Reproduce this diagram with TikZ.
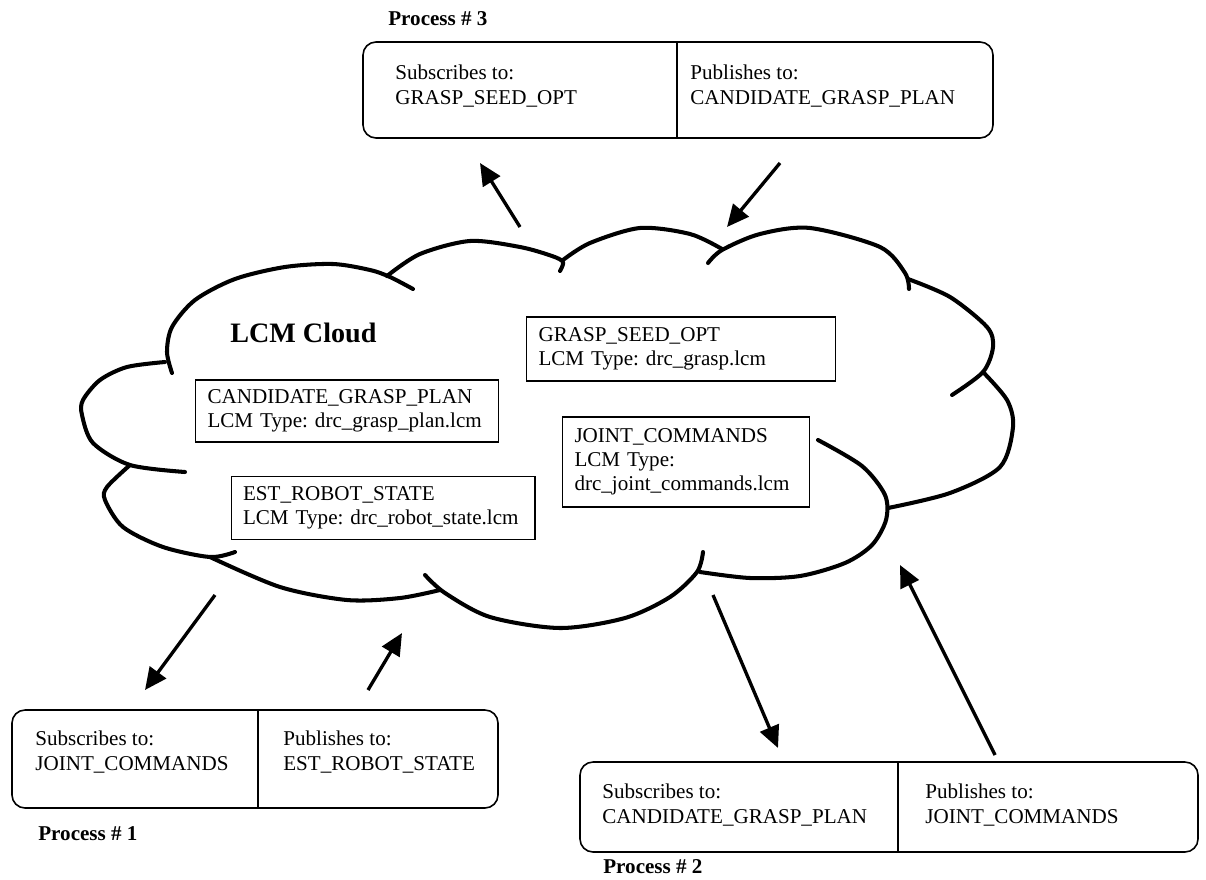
\documentclass[tikz,border=0pt]{standalone}
\usepackage{fontspec}
\setmainfont{Liberation Serif}
\frenchspacing
\usetikzlibrary{arrows.meta,positioning}

\begin{document}
\begin{tikzpicture}[
    x=0.02cm, y=-0.02cm,
    lobe/.style={line width=2.3pt, line cap=round, line join=round},
    flow/.style={-{Triangle[length=0.44cm,width=0.4cm]}, line width=1.9pt},
    procframe/.style={line width=0.9pt, rounded corners=0.26cm},
    boxtext/.style={font=\fontsize{12}{13.8}\selectfont, align=left, inner sep=0pt, anchor=north west},
    proc/.style={font=\fontsize{12}{14}\selectfont\bfseries, inner sep=0pt, anchor=base west},
    chan/.style={draw, line width=0.6pt, font=\fontsize{12}{13.8}\selectfont,
      align=left, inner xsep=0.24cm, inner ysep=0pt},
  ]

  \fill[white] (0,0) rectangle (1206,879);

  %% --- cloud ---
  \draw[lobe] plot[smooth] coordinates {(172,373) (167,352) (172,327) (195,300) (235,279) (285,267) (333,264) (370,270) (390,277) (413,289)};
  \draw[lobe] plot[smooth] coordinates {(387,276) (420,254) (470,241) (520,247) (552,256) (563,262) (560,271)};
  \draw[lobe] plot[smooth] coordinates {(563,260) (590,243) (640,228) (690,234) (722,249)};
  \draw[lobe] plot[smooth] coordinates {(708,263) (722,250) (760,234) (810,228) (880,247) (905,273) (909,289)};
  \draw[lobe] plot[smooth] coordinates {(908,279) (950,297) (987,327) (993,347) (983,372) (952,395)};
  \draw[lobe] plot[smooth] coordinates {(983,372) (1007,400) (1013,427) (1000,467) (950,493) (888,508)};
  \draw[lobe] plot[smooth] coordinates {(818,440) (862,466) (885,495) (886,520) (872,545) (845,563) (800,576) (750,578) (700,572)};
  \draw[lobe] plot[smooth] coordinates {(425,575) (445,593) (490,617) (560,628) (625,618) (670,597) (697,572) (703,552)};
  \draw[lobe] plot[smooth] coordinates {(210,557) (280,587) (347,600) (400,598) (440,590)};
  \draw[lobe] plot[smooth] coordinates {(130,465) (107,487) (105,500) (123,527) (163,547) (210,557) (235,552)};
  \draw[lobe] plot[smooth] coordinates {(165,362) (127,367) (100,380) (83,400) (82,415) (93,443) (130,465) (185,472)};

  \node[proc, font=\fontsize{16}{18}\selectfont\bfseries] (cloud) at (230,342) {LCM Cloud};

  %% --- channels ---
  \node[chan, text width=5.7cm, minimum height=1.28cm] (seed) at (681,349)
    {GRASP\_SEED\_OPT\\LCM Type: drc\_grasp.lcm};
  \node[chan, text width=5.58cm, minimum height=1.24cm] (plan) at (347,411)
    {CANDIDATE\_GRASP\_PLAN\\LCM Type: drc\_grasp\_plan.lcm};
  \node[chan, text width=4.46cm, minimum height=1.8cm] (joint) at (686,462)
    {JOINT\_COMMANDS\\LCM Type:\\drc\_joint\_commands.lcm};
  \node[chan, text width=5.6cm, minimum height=1.26cm] (state) at (383,508)
    {EST\_ROBOT\_STATE\\LCM Type: drc\_robot\_state.lcm};

  %% --- process 3 ---
  \draw[procframe] (363,42) rectangle (993,138);
  \draw[line width=0.9pt] (677,42) -- (677,138);
  \node[boxtext] (p3sub) at (395,65) {Subscribes to:\\GRASP\_SEED\_OPT};
  \node[boxtext] (p3pub) at (690,65) {Publishes to:\\CANDIDATE\_GRASP\_PLAN};
  \node[proc] (p3) at (388,25) {Process \# 3};

  %% --- process 1 ---
  \draw[procframe] (12,710) rectangle (498,808);
  \draw[line width=0.9pt] (258,710) -- (258,808);
  \node[boxtext] (p1sub) at (35,731) {Subscribes to:\\JOINT\_COMMANDS};
  \node[boxtext] (p1pub) at (283,731) {Publishes to:\\EST\_ROBOT\_STATE};
  \node[proc] (p1) at (38,840) {Process \# 1};

  %% --- process 2 ---
  \draw[procframe] (580,762) rectangle (1198,852);
  \draw[line width=0.9pt] (898,762) -- (898,852);
  \node[boxtext] (p2sub) at (602,784) {Subscribes to:\\CANDIDATE\_GRASP\_PLAN};
  \node[boxtext] (p2pub) at (925,784) {Publishes to:\\JOINT\_COMMANDS};
  \node[proc] (p2) at (603,873) {Process \# 2};

  %% --- arrows ---
  \coordinate (o3) at (520,227);  \coordinate (t3) at (480,163);
  \coordinate (s3) at (780,163);  \coordinate (i3) at (727,227);
  \coordinate (o1) at (215,595);  \coordinate (t1) at (145,690);
  \coordinate (s1) at (368,690);  \coordinate (i1) at (402,633);
  \coordinate (o2) at (713,595);  \coordinate (t2) at (778,748);
  \coordinate (s2) at (995,755);  \coordinate (i2) at (900,565);
  \foreach \a/\b in {o3/t3, s3/i3, o1/t1, s1/i1, o2/t2, s2/i2}
    \draw[flow] (\a) -- (\b);
\end{tikzpicture}
\end{document}
